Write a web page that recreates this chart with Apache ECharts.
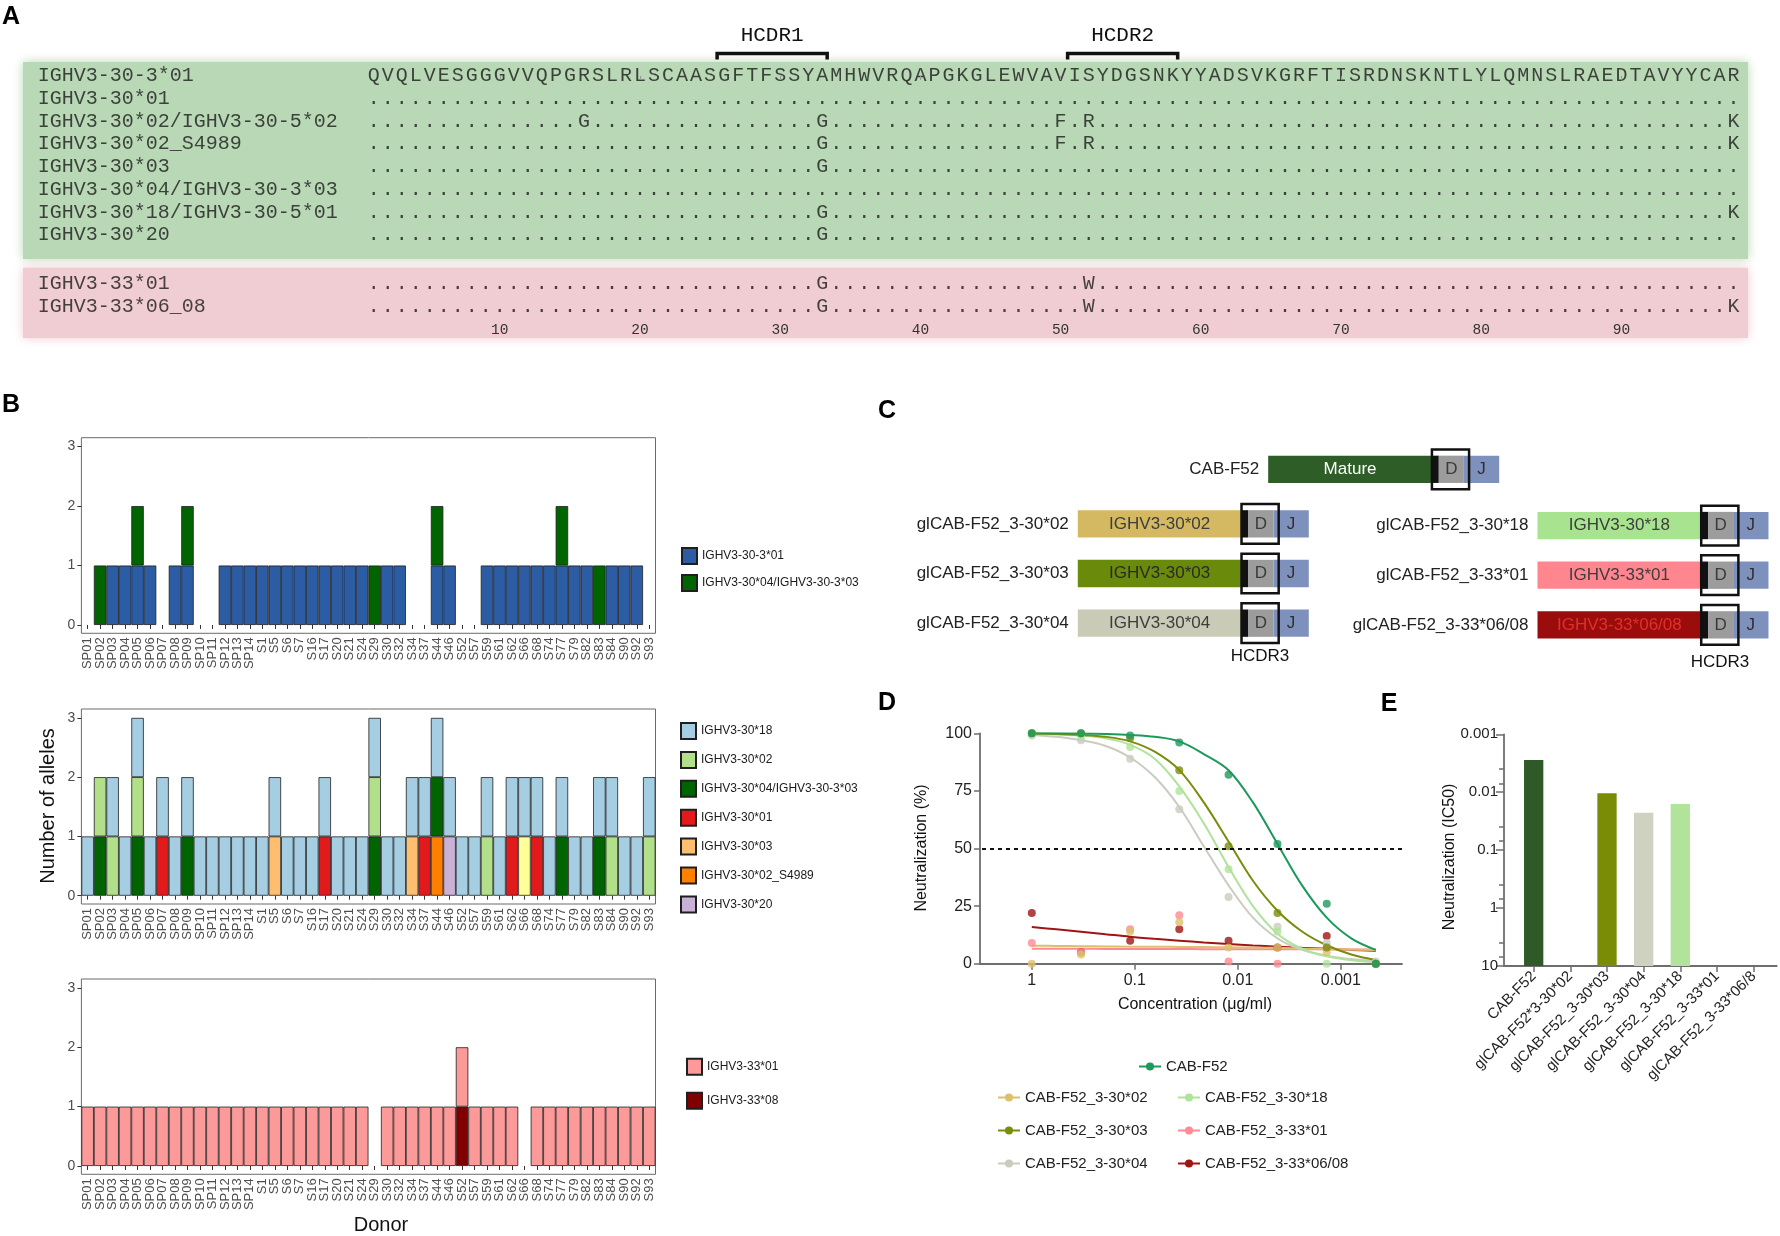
<!DOCTYPE html>
<html><head><meta charset="utf-8">
<script src="https://cdn.jsdelivr.net/npm/echarts@6.0.0/dist/echarts.min.js"></script>
<style>html,body{margin:0;padding:0;background:#fff}#c{width:1780px;height:1236px}</style>
</head><body><div id="c"></div>
<script>
// ================= DATA =================
// Panel A: alignment
const refSeq = "QVQLVESGGGVVQPGRSLRLSCAASGFTFSSYAMHWVRQAPGKGLEWVAVISYDGSNKYYADSVKGRFTISRDNSKNTLYLQMNSLRAEDTAVYYCAR";
const alleleNames = ["IGHV3-30-3*01","IGHV3-30*01","IGHV3-30*02/IGHV3-30-5*02","IGHV3-30*02_S4989","IGHV3-30*03","IGHV3-30*04/IGHV3-30-3*03","IGHV3-30*18/IGHV3-30-5*01","IGHV3-30*20","IGHV3-33*01","IGHV3-33*06_08"];
const alleleGroup = [0,0,0,0,0,0,0,0,1,1];
const alleleDiffs = [null, {}, {16:"G",33:"G",50:"F",52:"R",98:"K"}, {33:"G",50:"F",52:"R",98:"K"}, {33:"G"}, {}, {33:"G",98:"K"}, {33:"G"}, {33:"G",52:"W"}, {33:"G",52:"W",98:"K"}];
const positionTicks = [10,20,30,40,50,60,70,80,90];
const cdrNames = ["HCDR1","HCDR2"];
const cdrStart = [26, 51];
const cdrEnd = [33, 58];

// Panel B: allele counts per donor
const donors = ["SP01","SP02","SP03","SP04","SP05","SP06","SP07","SP08","SP09","SP10","SP11","SP12","SP13","SP14","S1","S5","S6","S7","S16","S17","S20","S21","S24","S29","S30","S32","S34","S37","S44","S46","S52","S57","S59","S61","S62","S66","S68","S74","S77","S79","S82","S83","S84","S90","S92","S93"];
const top_3303_01 = [0,0,1,1,1,1,0,1,1,0, 0,1,1,1,1,1,1,1,1,1, 1,1,1,0,1,1,0,0,1,1, 0,0,1,1,1,1,1,1,1,1, 1,0,1,1,1,0];
const top_3004    = [0,1,0,0,1,0,0,0,1,0, 0,0,0,0,0,0,0,0,0,0, 0,0,0,1,0,0,0,0,1,0, 0,0,0,0,0,0,0,0,1,0, 0,1,0,0,0,0];
const mid_3018    = [1,0,1,1,1,1,1,1,1,1, 1,1,1,1,1,1,1,1,1,1, 1,1,1,1,1,1,1,1,1,1, 1,1,1,1,1,1,1,1,1,1, 1,1,1,1,1,1];
const mid_3002    = [0,1,1,0,1,0,0,0,0,0, 0,0,0,0,0,0,0,0,0,0, 0,0,0,1,0,0,0,0,0,0, 0,0,1,0,0,0,0,0,0,0, 0,0,1,0,0,1];
const mid_3004    = [0,1,0,0,1,0,0,0,1,0, 0,0,0,0,0,0,0,0,0,0, 0,0,0,1,0,0,0,0,1,0, 0,0,0,0,0,0,0,0,1,0, 0,1,0,0,0,0];
const mid_3001    = [0,0,0,0,0,0,1,0,0,0, 0,0,0,0,0,0,0,0,0,1, 0,0,0,0,0,0,0,1,0,0, 0,0,0,0,1,0,1,0,0,0, 0,0,0,0,0,0];
const mid_3003    = [0,0,0,0,0,0,0,0,0,0, 0,0,0,0,0,1,0,0,0,0, 0,0,0,0,0,0,1,0,0,0, 0,0,0,0,0,0,0,0,0,0, 0,0,0,0,0,0];
const mid_S4989   = [0,0,0,0,0,0,0,0,0,0, 0,0,0,0,0,0,0,0,0,0, 0,0,0,0,0,0,0,0,1,0, 0,0,0,0,0,0,0,0,0,0, 0,0,0,0,0,0];
const mid_3020    = [0,0,0,0,0,0,0,0,0,0, 0,0,0,0,0,0,0,0,0,0, 0,0,0,0,0,0,0,0,0,1, 0,0,0,0,0,0,0,0,0,0, 0,0,0,0,0,0];
const mid_other   = [0,0,0,0,0,0,0,0,0,0, 0,0,0,0,0,0,0,0,0,0, 0,0,0,0,0,0,0,0,0,0, 0,0,0,0,0,1,0,0,0,0, 0,0,0,0,0,0];
const bot_3301    = [1,1,1,1,1,1,1,1,1,1, 1,1,1,1,1,1,1,1,1,1, 1,1,1,0,1,1,1,1,1,1, 1,1,1,1,1,0,1,1,1,1, 1,1,1,1,1,1];
const bot_3308    = [0,0,0,0,0,0,0,0,0,0, 0,0,0,0,0,0,0,0,0,0, 0,0,0,0,0,0,0,0,0,0, 1,0,0,0,0,0,0,0,0,0, 0,0,0,0,0,0];
const countTicks = [0,1,2,3];

// Panel C: constructs
const matureName = ["CAB-F52"];
const matureLabel = ["Mature"];
const leftConstructs = ["glCAB-F52_3-30*02","glCAB-F52_3-30*03","glCAB-F52_3-30*04"];
const leftVLabels = ["IGHV3-30*02","IGHV3-30*03","IGHV3-30*04"];
const rightConstructs = ["glCAB-F52_3-30*18","glCAB-F52_3-33*01","glCAB-F52_3-33*06/08"];
const rightVLabels = ["IGHV3-30*18","IGHV3-33*01","IGHV3-33*06/08"];
const segLengths = [100, 4.2, 15.3, 21.6]; // V, junction, D, J (relative)
const boxLength = 22.7;

// Panel D: neutralization curves
const pointConc = [1, 0.333, 0.111, 0.037, 0.0123, 0.00412, 0.00137, 0.000457];
const curveConc = [1, 0.577, 0.333, 0.192, 0.111, 0.0641, 0.037, 0.0214, 0.0123, 0.00713, 0.00412, 0.00238, 0.00137, 0.000792, 0.000457];
const dNames = ["CAB-F52","CAB-F52_3-30*02","CAB-F52_3-30*03","CAB-F52_3-30*04","CAB-F52_3-30*18","CAB-F52_3-33*01","CAB-F52_3-33*06/08"];
const pts_CAB  = [100, 100, 99, 96, 82, 52, 26, 0];
const pts_3002 = [0, 4, 14, 18, 7, 7, 5, 0];
const pts_3003 = [100, 100, 98, 84, 51, 22, 7, 0];
const pts_3004 = [99, 97, 89, 67, 29, 16, 9, 1];
const pts_3018 = [100, 99, 94, 75, 41, 14, 0, 0];
const pts_3301 = [9, 5, 15, 21, 1, 0, 7, 0];
const pts_3306 = [22, 5, 10, 15, 10, 7, 12, 0];
const fit_CAB  = [100, 100, 99.9, 99.7, 99.3, 98.5, 96.5, 91, 84, 70, 52, 34, 20, 11, 6];
const fit_3002 = [7.8, 7.7, 7.6, 7.5, 7.4, 7.4, 7.3, 7.2, 7.1, 7.0, 6.9, 6.6, 6.4, 6.2, 5.9];
const fit_3003 = [99.9, 99.7, 99.3, 98.5, 96.5, 92, 84, 70, 53, 36, 23, 14, 8, 4, 1.6];
const fit_3004 = [99.3, 98.5, 97, 94.5, 89.5, 81, 68, 51, 34, 20, 11, 6, 3.5, 2, 1.2];
const fit_3018 = [99.8, 99.5, 99, 97.8, 95, 89, 77, 61, 42, 25, 13, 6.5, 3.2, 1.5, 0.7];
const fit_3301 = [6.5, 6.5, 6.5, 6.4, 6.4, 6.4, 6.4, 6.3, 6.3, 6.3, 6.3, 6.3, 6.2, 6.2, 6.2];
const fit_3306 = [15.9, 14.9, 13.9, 12.8, 11.7, 10.8, 10, 9.2, 8.5, 7.9, 7.4, 6.9, 6.5, 6.0, 5.6];
const concTicks = [1, 0.1, 0.01, 0.001];

// Panel E: IC50
const eNames = ["CAB-F52","glCAB-F52*3-30*02","glCAB-F52_3-30*03","glCAB-F52_3-30*04","glCAB-F52_3-30*18","glCAB-F52_3-33*01","glCAB-F52_3-33*06/8"];
const eIC50 = [0.00278, null, 0.01045, 0.0226, 0.016, null, null];
const icTicks = [10, 1, 0.1, 0.01, 0.001];
const icMinorMult = [4, 7];

// ================= STYLE =================
const SANS = "'Liberation Sans', Arial, sans-serif";
const MONO = "'Liberation Mono', 'DejaVu Sans Mono', monospace";
const colB = {blue:'#2b5ca4', dgreen:'#006400', lblue:'#a6cee3', lgreen:'#b2df8a', red:'#e31a1c', lorange:'#fdbf6f', orange:'#ff7f00', lilac:'#cab2d6', yellow:'#ffff99', pink:'#fb9a99', dred:'#800000'};
const dColors = ['#1b9a5b','#dcc06c','#7a8c0c','#c9ccbf','#afe39a','#ff8a93','#a01414'];
const cLeftColors = ['#d4b962','#6a8a0b','#c9cbb6'];
const cRightColors = ['#a8e38f','#ff858f','#9b0c0c'];
const cLeftText = ['#3d3d3d','#2a2a2a','#3d3d3d'];
const cRightText = ['#3d3d3d','#3d3d3d','#e0302a'];
const eColors = ['#2f5a27','#2f5a27','#7a8c06','#cfd2c1','#b2e39a','#ff8a93','#a01414'];

// ================= BUILD =================
const rowY = i => alleleGroup[i] === 0 ? i : i + 1.16;
const seqData = [];
alleleNames.forEach((nm, i) => {
  for (let p = 1; p <= refSeq.length; p++) {
    const ch = i === 0 ? refSeq[p-1] : (alleleDiffs[i][p] || '.');
    seqData.push([p, rowY(i), ch]);
  }
});

const frame = {show:true, borderColor:'#6b6b6b', borderWidth:1};
const grids = [
  {left: 23, right: 32, top: 20, bottom: 898},                                      // 0 A
  Object.assign({left: 81.4, width: 574.1, top: 437.7, height: 195.6}, frame),      // 1 B top
  Object.assign({left: 81.4, width: 574.1, top: 709, height: 195}, frame),          // 2 B mid
  Object.assign({left: 81.4, width: 574.1, top: 979, height: 195.3}, frame),        // 3 B bottom
  {left: 1268.2, width: 231, top: 444.5, height: 49.6},        // 4 C top
  {left: 1077.8, width: 231, top: 499, height: 149},           // 5 C left
  {left: 1537.5, width: 231, top: 500.7, height: 149},         // 6 C right
  {left: 980, right: 378, top: 733.3, bottom: 272.3},          // 7 D
  {left: 1504, right: 3.3, top: 734.3, bottom: 270}            // 8 E
];

const xAxes = [], yAxes = [];
// A axes
xAxes.push({gridIndex:0, type:'value', min:-24.01, max:99.03, offset:-18, z:10,
  axisLine:{show:false}, splitLine:{show:false},
  axisTick:{show:true, customValues: positionTicks, length:4, lineStyle:{color:'#999', width:1}},
  axisLabel:{show:true, customValues: positionTicks, margin:3, fontFamily:MONO, fontSize:14.5, color:'#333'}});
yAxes.push({gridIndex:0, type:'value', inverse:true, min:-2.466, max:11.54, show:false});

// B axes
for (let g = 1; g <= 3; g++) {
  xAxes.push({gridIndex:g, type:'category', data:donors,
    axisLine:{show:false},
    axisTick:{show:true, alignWithLabel:true, interval:0, length:4, lineStyle:{color:'#333'}},
    axisLabel:{interval:0, rotate:90, fontSize:13, color:'#4d4d4d', margin:4, fontFamily:SANS}});
  yAxes.push({gridIndex:g, type:'value', min:-0.14, max:3.15,
    axisLine:{show:false}, splitLine:{show:false},
    axisTick:{show:true, customValues: countTicks, length:4, lineStyle:{color:'#333'}},
    axisLabel:{customValues: countTicks, fontSize:14, color:'#4d4d4d', margin:6, fontFamily:SANS}});
}
// C axes
const segTotal = segLengths.reduce((a,b)=>a+b,0);
[matureName, leftConstructs, rightConstructs].forEach((names, k) => {
  const g = 4 + k;
  xAxes.push({gridIndex:g, type:'value', min:0, max:segTotal, show:false});
  yAxes.push({gridIndex:g, type:'category', inverse:true, data:names,
    axisLine:{show:false}, axisTick:{show:false},
    axisLabel:{fontSize:17, color:'#222', margin:9, fontFamily:SANS}});
});
// D axes
const dTickVals = concTicks.map(c => Math.round(Math.log10(c)));
xAxes.push({gridIndex:7, type:'value', inverse:true, min:-3.594, max:0.503,
  axisLine:{show:true, onZero:false, lineStyle:{color:'#6e6e6e', width:1.8}}, splitLine:{show:false},
  axisTick:{show:true, customValues:dTickVals, length:6, lineStyle:{color:'#6e6e6e', width:1.5}},
  axisLabel:{customValues:dTickVals, fontSize:16, color:'#222', margin:9, fontFamily:SANS,
    formatter: v => { const i = dTickVals.indexOf(Math.round(v)); return i >= 0 ? String(concTicks[i]) : ''; }}});
yAxes.push({gridIndex:7, type:'value', min:0, max:100, interval:25,
  axisLine:{show:true, onZero:false, lineStyle:{color:'#6e6e6e', width:1.8}}, splitLine:{show:false},
  axisTick:{show:true, length:6, lineStyle:{color:'#6e6e6e', width:1.5}},
  axisLabel:{fontSize:16, color:'#222', margin:8, fontFamily:SANS}});
// E axes
const eIdx = eNames.map((n,i)=>i);
const icT = v => Math.log10(10 / v);
const icTickVals = icTicks.map(v => Math.round(icT(v)));
const icMinorVals = [];
icTicks.slice(1).forEach(d => icMinorMult.forEach(m => icMinorVals.push(icT(m*d))));
xAxes.push({gridIndex:8, type:'value', min:-0.81, max:6.63,
  axisLine:{show:true, onZero:false, lineStyle:{color:'#6e6e6e', width:1.8}}, splitLine:{show:false},
  axisTick:{show:true, customValues:eIdx, length:6, lineStyle:{color:'#6e6e6e', width:1.5}},
  axisLabel:{customValues:eIdx, rotate:45, fontSize:15, color:'#222', margin:8, fontFamily:SANS,
    formatter: v => eNames[Math.round(v)]}});
yAxes.push({gridIndex:8, type:'value', min:0, max:4, position:'left',
  axisLine:{show:true, onZero:false, lineStyle:{color:'#6e6e6e', width:1.8}}, splitLine:{show:false},
  axisTick:{show:true, customValues:icTickVals, length:8, lineStyle:{color:'#6e6e6e', width:1.5}},
  axisLabel:{customValues:icTickVals, fontSize:15, color:'#222', margin:6, fontFamily:SANS,
    formatter: v => { const i = icTickVals.indexOf(Math.round(v)); return i >= 0 ? String(icTicks[i]) : ''; }}});
yAxes.push({gridIndex:8, type:'value', min:0, max:4, position:'left', offset:0,
  axisLine:{show:false, onZero:false}, splitLine:{show:false}, axisLabel:{show:false},
  axisTick:{show:true, customValues:icMinorVals, length:5, lineStyle:{color:'#6e6e6e', width:1.5}}});

const series = [];
// ---- A series
series.push({type:'scatter', xAxisIndex:0, yAxisIndex:0, silent:true, z:1, symbolSize:0, data:[],
  markArea:{silent:true, data:[
    [{xAxis:-24.01, yAxis:-0.62, itemStyle:{color:'#b9d9b6', shadowBlur:10, shadowColor:'#b9d9b6'}}, {xAxis:99.03, yAxis:8.06}],
    [{xAxis:-24.01, yAxis:8.45, itemStyle:{color:'#f0ccd3', shadowBlur:10, shadowColor:'#f0ccd3'}}, {xAxis:99.03, yAxis:11.54}]
  ]}});
series.push({type:'scatter', xAxisIndex:0, yAxisIndex:0, silent:true, z:5, symbolSize:1,
  itemStyle:{color:'rgba(0,0,0,0)'}, data: seqData.map(d => [d[0], d[1]]),
  label:{show:true, position:'inside', fontFamily:MONO, fontSize:20, color:'#1a1a1a',
    formatter: p => seqData[p.dataIndex][2]}});
series.push({type:'scatter', xAxisIndex:0, yAxisIndex:0, silent:true, z:5, symbolSize:1,
  itemStyle:{color:'rgba(0,0,0,0)'}, data: alleleNames.map((n,i) => [-23, rowY(i)]),
  label:{show:true, position:'right', distance:0, fontFamily:MONO, fontSize:20, color:'#1a1a1a',
    formatter: p => alleleNames[p.dataIndex]}});
series.push({type:'custom', xAxisIndex:0, yAxisIndex:0, silent:true, z:5,
  data: cdrNames.map((n,i) => [cdrStart[i], cdrEnd[i]]),
  renderItem: (params, api) => {
    const a = api.coord([api.value(0) - 0.5, -0.99]);
    const b = api.coord([api.value(1) + 0.35, -0.99]);
    return {type:'group', children:[
      {type:'polyline', shape:{points:[[a[0], a[1]+6],[a[0], a[1]],[b[0], b[1]],[b[0], b[1]+6]]},
        style:{stroke:'#111', lineWidth:3.5, fill:null}},
      {type:'text', style:{text: cdrNames[params.dataIndex], x:(a[0]+b[0])/2, y:a[1]-8,
        align:'center', verticalAlign:'bottom', fontFamily:MONO, fontSize:21, fill:'#111'}}
    ]};
  }});

// ---- B series
const bEdge = {borderColor:'#1f1f1f', borderWidth:0.8};
function bSeries(name, data, color, g) {
  return {type:'bar', name, xAxisIndex:g, yAxisIndex:g, stack:'s'+g, barCategoryGap:'0%', silent:true,
    data: data.map(v => v === 0 ? '-' : v), itemStyle:Object.assign({color}, bEdge)};
}
series.push(bSeries('IGHV3-30-3*01', top_3303_01, colB.blue, 1));
series.push(bSeries('IGHV3-30*04/IGHV3-30-3*03', top_3004, colB.dgreen, 1));
series.push(bSeries('IGHV3-30*20', mid_3020, colB.lilac, 2));
series.push(bSeries('IGHV3-30*02_S4989', mid_S4989, colB.orange, 2));
series.push(bSeries('IGHV3-30*03', mid_3003, colB.lorange, 2));
series.push(bSeries('IGHV3-30*01', mid_3001, colB.red, 2));
series.push(bSeries('IGHV3-30 other', mid_other, colB.yellow, 2));
series.push(bSeries('IGHV3-30*04/IGHV3-30-3*03', mid_3004, colB.dgreen, 2));
series.push(bSeries('IGHV3-30*02', mid_3002, colB.lgreen, 2));
series.push(bSeries('IGHV3-30*18', mid_3018, colB.lblue, 2));
series.push(bSeries('IGHV3-33*08', bot_3308, colB.dred, 3));
series.push(bSeries('IGHV3-33*01', bot_3301, colB.pink, 3));

// ---- C series
function cSeries(g, vLabels, vColors, vText) {
  return {type:'custom', xAxisIndex:g, yAxisIndex:g, silent:true,
    data: vLabels.map((l,i) => [0, i]),
    renderItem: (params, api) => {
      const i = params.dataIndex;
      const c0 = api.coord([0, i]);
      const sz = api.size([1, 1]);
      const band = sz[1];
      const h = band * 0.55, top = c0[1] - h/2;
      let acc = 0; const xs = [];
      for (let k = 0; k <= segLengths.length; k++) { xs.push(api.coord([acc, i])[0]); if (k < segLengths.length) acc += segLengths[k]; }
      const segCol = [vColors[i], '#111111', '#9c9c9c', '#7e91bd'];
      const children = [];
      for (let k = 0; k < 4; k++) children.push({type:'rect', shape:{x:xs[k], y:top, width:xs[k+1]-xs[k], height:h}, style:{fill:segCol[k]}});
      children.push({type:'text', style:{text:vLabels[i], x:(xs[0]+xs[1])/2, y:c0[1], align:'center', verticalAlign:'middle', fontFamily:SANS, fontSize:17, fill:vText[i]}});
      children.push({type:'text', style:{text:'D', x:(xs[2]+xs[3])/2, y:c0[1], align:'center', verticalAlign:'middle', fontFamily:SANS, fontSize:17, fill:'#3a3a3a'}});
      children.push({type:'text', style:{text:'J', x:(xs[3]+xs[4])/2, y:c0[1], align:'center', verticalAlign:'middle', fontFamily:SANS, fontSize:17, fill:'#2e2e2e'}});
      children.push({type:'rect', shape:{x:xs[1], y:c0[1]-band*0.4, width:boxLength*sz[0], height:band*0.8}, style:{fill:null, stroke:'#111', lineWidth:2.5}});
      return {type:'group', children};
    }};
}
series.push(cSeries(4, matureLabel, ['#2e5d27'], ['#ffffff']));
series.push(cSeries(5, leftVLabels, cLeftColors, cLeftText));
series.push(cSeries(6, rightVLabels, cRightColors, cRightText));

// ---- D series
const dPts = [pts_CAB, pts_3002, pts_3003, pts_3004, pts_3018, pts_3301, pts_3306];
const dFit = [fit_CAB, fit_3002, fit_3003, fit_3004, fit_3018, fit_3301, fit_3306];
const dOrder = [6, 5, 1, 3, 4, 2, 0];
dOrder.forEach(k => {
  const line = {type:'line', name:dNames[k], xAxisIndex:7, yAxisIndex:7, silent:true,
    data: curveConc.map((c,i) => [Math.log10(c), dFit[k][i]]),
    smooth:0.35, showSymbol:false, symbol:'circle', symbolSize:8,
    lineStyle:{width:2, color:dColors[k]}, itemStyle:{color:dColors[k]}, z:3};
  if (k === 0) line.markLine = {silent:true, symbol:['none','none'], label:{show:false},
    lineStyle:{type:[4,4], color:'#111', width:2}, data:[{yAxis:50}]};
  series.push(line);
  series.push({type:'scatter', name:dNames[k], xAxisIndex:7, yAxisIndex:7, silent:true, clip:false,
    data: pointConc.map((c,i) => [Math.log10(c), dPts[k][i]]),
    symbolSize:8, itemStyle:{color:dColors[k]}, z:4});
});

// ---- E series
series.push({type:'bar', xAxisIndex:8, yAxisIndex:8, silent:true, barWidth:19.3,
  data: eIC50.map((v,i) => v == null ? null : {value:[i, icT(v)], itemStyle:{color:eColors[i]}})
    .filter(d => d != null)});

// ---- Legends
const legB = {orient:'vertical', icon:'rect', itemWidth:15, itemHeight:16, selectedMode:false,
  textStyle:{fontSize:12, color:'#1a1a1a', fontFamily:SANS}};
const legD = {orient:'vertical', itemWidth:22, itemHeight:10, itemGap:18, selectedMode:false,
  textStyle:{fontSize:15, color:'#222', fontFamily:SANS}};
const legends = [
  Object.assign({}, legB, {left:676, top:542, itemGap:9, data:['IGHV3-30-3*01','IGHV3-30*04/IGHV3-30-3*03']}),
  Object.assign({}, legB, {left:675, top:717, itemGap:10.9, data:['IGHV3-30*18','IGHV3-30*02','IGHV3-30*04/IGHV3-30-3*03','IGHV3-30*01','IGHV3-30*03','IGHV3-30*02_S4989','IGHV3-30*20']}),
  Object.assign({}, legB, {left:681, top:1052.7, itemGap:16, data:['IGHV3-33*01','IGHV3-33*08']}),
  Object.assign({}, legD, {left:1133, top:1054, data:[dNames[0]]}),
  Object.assign({}, legD, {left:992, top:1085, data:[dNames[1], dNames[2], dNames[3]]}),
  Object.assign({}, legD, {left:1172, top:1085, data:[dNames[4], dNames[5], dNames[6]]})
];

// ---- Text annotations
function txt(text, x, y, size, opts) {
  return Object.assign({type:'text', x, y, silent:true,
    style:{text, fontSize:size, fontFamily:SANS, fill:'#111', align:'center', verticalAlign:'middle'}}, opts || {});
}
const graphics = [
  txt('A', 11, 17, 25), txt('B', 11, 405, 25), txt('C', 887, 411, 25), txt('D', 887, 703, 25), txt('E', 1389, 704, 25),
  txt('Number of alleles', 48, 806, 20, {rotation:Math.PI/2}),
  txt('Donor', 381, 1225, 20),
  txt('HCDR3', 1260, 656, 17), txt('HCDR3', 1720, 662, 17),
  txt('Neutralization (%)', 922, 848, 16, {rotation:Math.PI/2}),
  txt('Concentration (\u03bcg/ml)', 1195, 1005, 16),
  txt('Neutralization (IC50)', 1450, 857, 16, {rotation:Math.PI/2})
];
graphics.slice(0,5).forEach(g => { g.style.fontWeight = 'bold'; g.style.fill = '#000'; });

const chart = echarts.init(document.getElementById('c'));
chart.setOption({
  animation:false, backgroundColor:'#fff',
  textStyle:{fontFamily:SANS},
  grid:grids, xAxis:xAxes, yAxis:yAxes, series, legend:legends, graphic:graphics
});
</script></body></html>
